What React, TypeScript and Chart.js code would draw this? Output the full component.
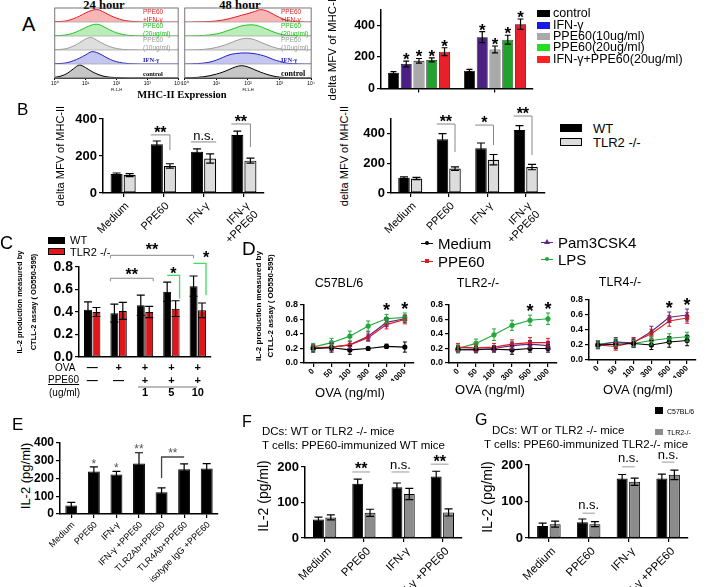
import React, { useEffect, useRef } from 'react';
import { Chart, registerables } from 'chart.js';

Chart.register(...registerables);

const SANS = '"Liberation Sans", Arial, Helvetica, sans-serif';
const NARROW = '"Liberation Sans Narrow", "Arial Narrow", "Liberation Sans", Arial, sans-serif';
const SERIF = '"Liberation Serif", "DejaVu Serif", "Times New Roman", serif';
Chart.defaults.font.family = SANS;
Chart.defaults.color = '#000';

// ---------------- Panel A: flow histograms ----------------
const HIST_X = [0, 0.2, 0.4, 0.6, 0.8, 1, 1.2, 1.4, 1.6, 1.8, 2, 2.2, 2.4, 2.6, 2.8, 3, 3.2, 3.4, 3.6, 3.8, 4];
const HIST_TICKS = ['10⁰', '10¹', '10²', '10³', '10⁴'];
const h24Combo = [0.02, 0.04, 0.1, 0.25, 0.45, 0.7, 0.9, 0.95, 0.75, 0.5, 0.3, 0.15, 0.07, 0.03, 0.01, 0, 0, 0, 0, 0, 0];
const h24Ppe20 = [0.02, 0.04, 0.1, 0.22, 0.42, 0.65, 0.85, 0.9, 0.7, 0.45, 0.25, 0.12, 0.05, 0.02, 0.01, 0, 0, 0, 0, 0, 0];
const h24Ppe10 = [0.02, 0.05, 0.12, 0.3, 0.55, 0.85, 0.95, 0.7, 0.45, 0.25, 0.12, 0.05, 0.02, 0.01, 0, 0, 0, 0, 0, 0, 0];
const h24Ifn = [0.02, 0.04, 0.1, 0.25, 0.45, 0.7, 0.95, 0.85, 0.6, 0.35, 0.18, 0.08, 0.03, 0.01, 0, 0, 0, 0, 0, 0, 0];
const h24Ctrl = [0.05, 0.15, 0.35, 0.7, 1.0, 0.8, 0.5, 0.28, 0.13, 0.06, 0.03, 0.01, 0, 0, 0, 0, 0, 0, 0, 0, 0];
const h48Combo = [0, 0, 0.01, 0.02, 0.04, 0.08, 0.15, 0.25, 0.38, 0.52, 0.65, 0.8, 0.95, 0.85, 0.6, 0.35, 0.15, 0.05, 0.02, 0, 0];
const h48Ppe20 = [0, 0.01, 0.02, 0.04, 0.08, 0.16, 0.28, 0.45, 0.62, 0.78, 0.85, 0.85, 0.72, 0.52, 0.32, 0.16, 0.06, 0.02, 0.01, 0, 0];
const h48Ppe10 = [0, 0.01, 0.02, 0.05, 0.1, 0.2, 0.33, 0.5, 0.7, 0.85, 0.9, 0.8, 0.6, 0.4, 0.22, 0.1, 0.04, 0.01, 0, 0, 0];
const h48Ifn = [0, 0.01, 0.03, 0.07, 0.15, 0.3, 0.5, 0.7, 0.8, 0.85, 0.85, 0.8, 0.7, 0.55, 0.35, 0.2, 0.08, 0.03, 0.01, 0, 0];
const h48Ctrl = [0.01, 0.02, 0.05, 0.1, 0.18, 0.3, 0.45, 0.65, 0.85, 0.95, 0.85, 0.65, 0.45, 0.28, 0.15, 0.07, 0.03, 0.01, 0, 0, 0];
const HIST_LINE = ['#e31a1c', '#1fc01f', '#9a9a9a', '#2020c0', '#000000'];
const HIST_FILL = ['rgba(240,120,120,0.55)', 'rgba(120,220,120,0.5)', 'rgba(200,200,200,0.6)', 'rgba(140,140,230,0.5)', 'rgba(160,160,160,0.6)'];

// ---------------- Panel A: bars ----------------
const A_GROUPS = ['24 hour', '48 hour'];
const A_SERIES = ['control', 'IFN-γ', 'PPE60(10ug/ml)', 'PPE60(20ug/ml)', 'IFN-γ+PPE60(20ug/ml)'];
const aControl = [99, 113];
const aIfn = [155, 325];
const aPpe10 = [175, 247];
const aPpe20 = [181, 309];
const aCombo = [233, 407];
const aControlErr = [8, 8];
const aIfnErr = [18, 35];
const aPpe10Err = [15, 22];
const aPpe20Err = [13, 28];
const aComboErr = [25, 33];
const A_BAR_COLORS = ['#000000', '#4a2082', '#a9a9a9', '#1fa32c', '#e8202a'];
const A_LEGEND_COLORS = ['#000000', '#1a1ae6', '#a9a9a9', '#22dd22', '#ff2020'];

// ---------------- Panel B ----------------
const B_CATS = ['Medium', 'PPE60', 'IFN-γ', ['IFN-γ', '+PPE60']];
const bLeftWT = [103, 263, 223, 313];
const bLeftWTErr = [5, 18, 15, 22];
const bLeftKO = [97, 146, 186, 175];
const bLeftKOErr = [8, 12, 25, 13];
const bRightWT = [103, 363, 303, 425];
const bRightWTErr = [6, 38, 35, 30];
const bRightKO = [98, 165, 225, 175];
const bRightKOErr = [8, 12, 35, 18];

// ---------------- Panel C ----------------
const C_OVA = ['—', '+', '+', '+', '+'];
const C_PPE = ['—', '—', '+', '+', '+'];
const C_DOSE = ['', '', '1', '5', '10'];
const cWT = [0.42, 0.39, 0.46, 0.58, 0.63];
const cWTErr = [0.07, 0.08, 0.09, 0.085, 0.09];
const cKO = [0.40, 0.41, 0.40, 0.43, 0.415];
const cKOErr = [0.04, 0.075, 0.05, 0.07, 0.065];

// ---------------- Panel D ----------------
const D_OVA = ['0', '50', '100', '300', '500', '1000'];
const D_SERIES = ['Medium', 'PPE60', 'Pam3CSK4', 'LPS'];
const D_COLORS = ['#000000', '#e41a1c', '#5b2a86', '#22a83a'];
const D_POINTS = ['circle', 'rect', 'triangle', 'circle'];
const dC57Medium = [0.20, 0.21, 0.18, 0.20, 0.23, 0.22];
const dC57Ppe = [0.21, 0.22, 0.25, 0.35, 0.53, 0.60];
const dC57Pam = [0.20, 0.22, 0.25, 0.37, 0.56, 0.61];
const dC57Lps = [0.22, 0.28, 0.37, 0.51, 0.61, 0.63];
const dC57MediumErr = [0.05, 0.06, 0.06, 0.02, 0.03, 0.07];
const dC57PpeErr = [0.04, 0.05, 0.05, 0.05, 0.06, 0.06];
const dC57PamErr = [0.04, 0.05, 0.05, 0.06, 0.06, 0.05];
const dC57LpsErr = [0.05, 0.06, 0.07, 0.07, 0.06, 0.06];
const dT2Medium = [0.19, 0.19, 0.19, 0.18, 0.20, 0.20];
const dT2Ppe = [0.22, 0.21, 0.22, 0.26, 0.28, 0.28];
const dT2Pam = [0.18, 0.18, 0.20, 0.24, 0.26, 0.24];
const dT2Lps = [0.20, 0.27, 0.39, 0.52, 0.59, 0.61];
const dT2MediumErr = [0.04, 0.04, 0.04, 0.06, 0.05, 0.05];
const dT2PpeErr = [0.05, 0.05, 0.05, 0.06, 0.07, 0.06];
const dT2PamErr = [0.04, 0.04, 0.04, 0.05, 0.05, 0.05];
const dT2LpsErr = [0.05, 0.06, 0.08, 0.07, 0.07, 0.08];
const dT4Medium = [0.20, 0.21, 0.22, 0.20, 0.24, 0.26];
const dT4Ppe = [0.20, 0.18, 0.24, 0.35, 0.52, 0.56];
const dT4Pam = [0.20, 0.24, 0.23, 0.38, 0.57, 0.60];
const dT4Lps = [0.21, 0.24, 0.22, 0.26, 0.29, 0.31];
const dT4MediumErr = [0.05, 0.06, 0.05, 0.06, 0.07, 0.07];
const dT4PpeErr = [0.04, 0.05, 0.06, 0.06, 0.07, 0.07];
const dT4PamErr = [0.04, 0.06, 0.06, 0.07, 0.07, 0.08];
const dT4LpsErr = [0.05, 0.05, 0.04, 0.06, 0.06, 0.06];

// ---------------- Panel E ----------------
const E_CATS = ['Medium', 'PPE60', 'IFN-γ', 'IFN-γ +PPE60', 'TLR2Ab+PPE60', 'TLR4Ab+PPE60', 'isotype IgG +PPE60'];
const eVals = [48, 240, 222, 285, 122, 252, 256];
const eErr = [18, 25, 18, 60, 25, 30, 28];

// ---------------- Panels F, G ----------------
const FG_CATS = ['Medium', 'PPE60', 'IFN-γ', 'IFN-γ +PPE60'];
const fWT = [52, 153, 143, 173];
const fWTErr = [7, 13, 12, 15];
const fKO = [58, 71, 124, 72];
const fKOErr = [7, 10, 16, 10];
const gWT = [33, 43, 163, 163];
const gWTErr = [8, 9, 11, 12];
const gKO = [38, 38, 154, 173];
const gKOErr = [8, 7, 10, 13];

// ================= helpers =================
type Frame = { left: number; top: number; width: number; height: number; yW: number; xH: number; padT: number; padR: number; padL?: number };
function frame(l: number, t: number, r: number, b: number, yW: number, xH: number, padT: number, padR: number): Frame {
  return { left: l - yW, top: t - padT, width: r + padR - (l - yW), height: b + xH - (t - padT), yW, xH, padT, padR };
}

function baseOptions(f: Frame) {
  return {
    animation: false,
    responsive: false,
    events: [],
    layout: { autoPadding: false, padding: { left: f.padL || 0, top: f.padT, right: f.padR, bottom: 0 } },
    plugins: { legend: { display: false }, tooltip: { enabled: false } },
  };
}

function yLin(f: Frame, min: number, max: number, step: number, size: number, fmt?: (v: number) => string) {
  return {
    min, max,
    afterFit: (s: any) => { s.width = f.yW; },
    ticks: { stepSize: step, font: { family: SANS, size, weight: 'bold' }, color: '#000', padding: 2, callback: (v: any) => (fmt ? fmt(v) : String(v)) },
    grid: { display: true, drawOnChartArea: false, drawTicks: true, tickLength: 4, color: '#000', lineWidth: 1.2 },
    border: { display: true, color: '#000', width: 1.5 },
  };
}

function xCat(f: Frame, o: { size?: number; bold?: boolean; rot?: number; show?: boolean; ticks?: boolean; lh?: number; pad?: number; off?: number }) {
  const rot = o.rot === undefined ? 45 : o.rot;
  return {
    type: 'category',
    offset: true,
    afterFit: (s: any) => { s.height = f.xH; },
    ticks: {
      display: o.show !== false,
      font: { family: SANS, size: o.size || 11, weight: o.bold ? 'bold' : 'normal', lineHeight: o.lh || 1.1 },
      color: '#000', minRotation: rot, maxRotation: rot, autoSkip: false, padding: o.pad === undefined ? 1 : o.pad,
      labelOffset: o.off || 0,
    },
    grid: { display: true, offset: false, drawOnChartArea: false, drawTicks: o.ticks !== false, tickLength: 4, color: '#000', lineWidth: 1.2 },
    border: { display: true, color: '#000', width: 1.5 },
  };
}

const errorBars = (cap: number, lw = 1.2) => ({
  id: 'errorBars',
  afterDatasetsDraw(chart: any) {
    const ctx = chart.ctx;
    chart.data.datasets.forEach((ds: any, di: number) => {
      if (!ds.errors) return;
      const meta = chart.getDatasetMeta(di);
      const ys = chart.scales[meta.yAxisID];
      ctx.save();
      ctx.strokeStyle = ds.errColor || '#000';
      ctx.lineWidth = lw;
      meta.data.forEach((el: any, i: number) => {
        const v = ds.data[i];
        const e = ds.errors[i];
        const yt = ys.getPixelForValue(v + e);
        const yb = ys.getPixelForValue(v - e);
        const x = el.x;
        ctx.beginPath();
        ctx.moveTo(x, yb); ctx.lineTo(x, yt);
        ctx.moveTo(x - cap / 2, yt); ctx.lineTo(x + cap / 2, yt);
        ctx.moveTo(x - cap / 2, yb); ctx.lineTo(x + cap / 2, yb);
        ctx.stroke();
      });
      ctx.restore();
    });
  },
});

const annotations = (list: any[]) => ({
  id: 'annots',
  afterDraw(chart: any) {
    const ctx = chart.ctx;
    const ys = chart.scales.y;
    const el = (r: number[]) => chart.getDatasetMeta(r[0]).data[r[1]];
    const topOf = (r: number[]) => {
      const ds = chart.data.datasets[r[0]];
      const e = ds.errors ? ds.errors[r[1]] : 0;
      return ys.getPixelForValue(ds.data[r[1]] + e);
    };
    const ex = (e: any, side: string) => (side === 'l' ? e.x - e.width / 2 : side === 'r' ? e.x + e.width / 2 : e.x);
    for (const a of list) {
      ctx.save();
      ctx.font = `${a.bold === false ? 'normal' : 'bold'} ${a.size || 16}px ${SANS}`;
      ctx.fillStyle = a.textColor || '#000';
      ctx.textAlign = 'center';
      ctx.textBaseline = 'alphabetic';
      if (a.k === 'star') {
        let x = 0;
        let yt = 0;
        if (a.at[0] < 0) {
          const idx = a.at[1];
          let m = Infinity;
          let sx = 0;
          const n = chart.data.datasets.length;
          chart.data.datasets.forEach((_: any, di: number) => { m = Math.min(m, topOf([di, idx])); sx += el([di, idx]).x; });
          x = sx / n; yt = m;
        } else {
          x = el(a.at).x; yt = topOf(a.at);
        }
        ctx.fillText(a.text, x, yt - (a.gap === undefined ? 2 : a.gap));
      } else {
        const e1 = el(a.from);
        const e2 = el(a.to);
        const x1 = ex(e1, a.s1 || 'c');
        const x2 = ex(e2, a.s2 || 'c');
        const yl = ys.getPixelForValue(a.y);
        ctx.strokeStyle = a.color || '#888';
        ctx.lineWidth = a.lw || 1;
        ctx.beginPath();
        if (a.d1 !== undefined) { ctx.moveTo(x1, ys.getPixelForValue(a.d1)); ctx.lineTo(x1, yl); }
        else if (a.tick) { ctx.moveTo(x1, yl + a.tick); ctx.lineTo(x1, yl); }
        else ctx.moveTo(x1, yl);
        ctx.lineTo(x2, yl);
        if (a.d2 !== undefined) ctx.lineTo(x2, ys.getPixelForValue(a.d2));
        else if (a.tick) ctx.lineTo(x2, yl + a.tick);
        ctx.stroke();
        const tx = a.tx === 'end' ? x2 : (x1 + x2) / 2;
        ctx.fillText(a.text, tx, yl - (a.gap === undefined ? 3 : a.gap));
      }
      ctx.restore();
    }
  },
});

const histBox = {
  id: 'histBox',
  afterDatasetsDraw(chart: any) {
    const ctx = chart.ctx;
    const ca = chart.chartArea;
    ctx.save();
    ctx.strokeStyle = '#aaa';
    ctx.lineWidth = 0.8;
    Object.keys(chart.scales).forEach((k) => {
      if (k[0] !== 'h') return;
      const s = chart.scales[k];
      ctx.beginPath();
      ctx.moveTo(ca.left, s.bottom);
      ctx.lineTo(ca.right, s.bottom);
      ctx.stroke();
    });
    ctx.strokeStyle = '#555';
    ctx.strokeRect(ca.left, ca.top, ca.right - ca.left, ca.bottom - ca.top);
    ctx.restore();
  },
};

function ChartBox({ f, cfg }: { f: Frame; cfg: () => any }) {
  const ref = useRef<HTMLCanvasElement | null>(null);
  useEffect(() => {
    const c = new Chart(ref.current as HTMLCanvasElement, cfg());
    return () => c.destroy();
  }, []);
  return <canvas ref={ref} width={f.width} height={f.height} style={{ position: 'absolute', left: f.left, top: f.top, width: f.width, height: f.height }} />;
}

type TxtProps = { x: number; y: number; s: any; size?: number; bold?: boolean; color?: string; a?: 'l' | 'c' | 'r'; font?: string; rot?: number; style?: any };
function Txt({ x, y, s, size = 12, bold = false, color = '#000', a = 'l', font = SANS, rot = 0, style = {} }: TxtProps) {
  const tx = a === 'l' ? '0' : a === 'c' ? '-50%' : '-100%';
  return (
    <div style={{ position: 'absolute', left: x, top: y, transform: `translate(${tx},-50%)${rot ? ` rotate(${rot}deg)` : ''}`, fontFamily: font, fontSize: size, fontWeight: bold ? 'bold' : 'normal', color, whiteSpace: 'nowrap', lineHeight: 1, ...style }}>
      {s}
    </div>
  );
}
function Box({ x, y, w, h, bg, border }: { x: number; y: number; w: number; h: number; bg: string; border?: string }) {
  return <div style={{ position: 'absolute', left: x, top: y, width: w, height: h, background: bg, boxSizing: 'border-box', border: border ? `1px solid ${border}` : 'none' }} />;
}

// ================= chart configs =================
function histConfig(f: Frame, rows: number[][]) {
  const scales: any = {
    x: {
      type: 'linear', min: 0, max: 4,
      afterFit: (s: any) => { s.height = f.xH; },
      ticks: { stepSize: 1, callback: (v: any) => HIST_TICKS[v] || '', font: { family: SANS, size: 5 }, color: '#000', padding: 1, maxRotation: 0 },
      grid: { display: true, drawOnChartArea: false, tickLength: 2, color: '#000' },
      border: { color: '#000' },
      title: { display: true, text: 'FL1-H', font: { family: SANS, size: 4 }, color: '#000', padding: 0 },
    },
  };
  rows.forEach((_, i) => {
    scales['h' + i] = { position: 'right', stack: 'hist', stackWeight: 1, display: false, min: 0, max: 1.08 };
  });
  return {
    type: 'line',
    data: {
      datasets: rows.map((vals, i) => ({
        data: vals.map((v, j) => ({ x: HIST_X[j], y: v })),
        yAxisID: 'h' + i,
        borderColor: HIST_LINE[i],
        backgroundColor: HIST_FILL[i],
        fill: 'origin',
        borderWidth: 1,
        pointRadius: 0,
        tension: 0.35,
      })),
    },
    options: { ...baseOptions(f), scales },
    plugins: [histBox],
  };
}

const fA = frame(381, 9, 533, 90, 50, 8, 9, 3);
function aConfig() {
  const vals = [aControl, aIfn, aPpe10, aPpe20, aCombo];
  const errs = [aControlErr, aIfnErr, aPpe10Err, aPpe20Err, aComboErr];
  const ann: any[] = [];
  for (let d = 1; d < 5; d++) for (let i = 0; i < 2; i++) ann.push({ k: 'star', at: [d, i], text: '*', size: 17, gap: -4 });
  return {
    type: 'bar',
    data: {
      labels: A_GROUPS,
      datasets: A_SERIES.map((name, i) => ({
        label: name, data: vals[i], errors: errs[i], backgroundColor: A_BAR_COLORS[i], borderColor: '#111', borderWidth: 0.8,
        categoryPercentage: 0.84, barPercentage: 0.86,
      })),
    },
    options: { ...baseOptions(fA), scales: { x: xCat(fA, { show: false }), y: yLin(fA, 0, 500, 100, 12.5) } },
    plugins: [errorBars(6), annotations(ann)],
  };
}

const fBL = frame(103, 119, 264, 193, 48, 52, 14, 4);
const fBR = frame(391, 119, 545, 193, 40, 52, 16, 6);
function bConfig(f: Frame, wt: number[], wtE: number[], ko: number[], koE: number[], max: number, step: number, ann: any[]) {
  return {
    type: 'bar',
    data: {
      labels: B_CATS,
      datasets: [
        { label: 'WT', data: wt, errors: wtE, backgroundColor: '#000', borderColor: '#000', borderWidth: 1, categoryPercentage: 0.65, barPercentage: 0.92 },
        { label: 'TLR2 -/-', data: ko, errors: koE, backgroundColor: '#dcdcdc', borderColor: '#000', borderWidth: 1.2, borderSkipped: false, categoryPercentage: 0.65, barPercentage: 0.92 },
      ],
    },
    options: { ...baseOptions(f), scales: { x: xCat(f, { size: 11, pad: 3, off: 4 }), y: yLin(f, 0, max, step, 13) } },
    plugins: [errorBars(8), annotations(ann)],
  };
}
const bLeftAnn = [
  { k: 'bracket', from: [0, 1], s1: 'l', to: [1, 1], s2: 'c', y: 314, d2: 232, text: '**', size: 16, gap: -3 },
  { k: 'bracket', from: [0, 2], s1: 'l', to: [1, 2], s2: 'r', y: 276, text: 'n.s.', size: 13, bold: false, gap: 2 },
  { k: 'bracket', from: [0, 3], s1: 'l', to: [1, 3], s2: 'c', y: 373, d2: 249, text: '**', size: 16, gap: -3 },
];
const bRightAnn = [
  { k: 'bracket', from: [0, 1], s1: 'l', to: [1, 1], s2: 'c', y: 466, d2: 277, text: '**', size: 16, gap: -3 },
  { k: 'bracket', from: [0, 2], s1: 'l', to: [1, 2], s2: 'c', y: 459, d2: 324, text: '*', size: 16, gap: -3 },
  { k: 'bracket', from: [0, 3], s1: 'l', to: [1, 3], s2: 'c', y: 520, d2: 257, text: '**', size: 16, gap: -3 },
];

const fC = frame(79, 267, 211, 357, 62, 44, 27, 8);
function cConfig() {
  const labels = C_OVA.map((o, i) => [o, C_PPE[i], C_DOSE[i]]);
  const ann = [
    { k: 'bracket', from: [0, 1], s1: 'l', to: [0, 4], s2: 'c', y: 0.904, tick: 3, text: '**', size: 16, gap: 0, color: '#888' },
    { k: 'bracket', from: [0, 1], s1: 'l', to: [1, 2], s2: 'r', y: 0.70, tick: 3, text: '**', size: 16, gap: -2, color: '#888' },
    { k: 'bracket', from: [0, 3], s1: 'c', to: [1, 3], s2: 'r', y: 0.726, d2: 0.52, text: '*', size: 16, gap: -4, color: '#3ddc5a', lw: 1.3 },
    { k: 'bracket', from: [0, 4], s1: 'c', to: [1, 4], s2: 'r', y: 0.833, d2: 0.55, text: '*', size: 16, gap: 0, color: '#3ddc5a', lw: 1.3, tx: 'end' },
  ];
  return {
    type: 'bar',
    data: {
      labels,
      datasets: [
        { label: 'WT', data: cWT, errors: cWTErr, backgroundColor: '#000', borderColor: '#000', borderWidth: 1, categoryPercentage: 0.64, barPercentage: 0.94 },
        { label: 'TLR2 -/-', data: cKO, errors: cKOErr, backgroundColor: '#e3151b', borderColor: '#000', borderWidth: 1, borderSkipped: false, categoryPercentage: 0.64, barPercentage: 0.94 },
      ],
    },
    options: {
      ...baseOptions(fC),
      scales: {
        x: xCat(fC, { size: 11, bold: true, rot: 0, ticks: false, lh: 1.12, pad: 5 }),
        y: yLin(fC, 0, 0.8, 0.2, 14, (v) => Number(v).toFixed(1)),
      },
    },
    plugins: [errorBars(8), annotations(ann)],
  };
}

const fD1 = frame(304, 305, 414, 363, 22, 18, 13, 6);
const fD2 = frame(449, 305, 557, 363, 22, 18, 13, 6);
const fD3 = frame(589, 300, 696, 360, 22, 18, 13, 6);
function dConfig(f: Frame, series: number[][], errs: number[][]) {
  const ann = [
    { k: 'star', at: [-1, 4], text: '*', size: 18, gap: -2 },
    { k: 'star', at: [-1, 5], text: '*', size: 18, gap: -2 },
  ];
  return {
    type: 'line',
    data: {
      labels: D_OVA,
      datasets: D_SERIES.map((name, i) => ({
        label: name, data: series[i], errors: errs[i], errColor: D_COLORS[i],
        borderColor: D_COLORS[i], backgroundColor: D_COLORS[i], pointStyle: D_POINTS[i], pointRadius: 2, borderWidth: 1.2, tension: 0,
      })),
    },
    options: {
      ...baseOptions(f),
      scales: {
        x: xCat(f, { size: 8, bold: true, rot: 45, pad: 0 }),
        y: yLin(f, 0, 0.8, 0.2, 9, (v) => Number(v).toFixed(1)),
      },
    },
    plugins: [errorBars(4, 1), annotations(ann)],
  };
}

const fE = frame(60, 443, 218, 514, 42, 72, 12, 6);
function eConfig() {
  const ann = [
    { k: 'star', at: [0, 1], text: '*', size: 12, bold: false, textColor: '#555', gap: -1 },
    { k: 'star', at: [0, 2], text: '*', size: 12, bold: false, textColor: '#555', gap: -1 },
    { k: 'star', at: [0, 3], text: '**', size: 12, bold: false, textColor: '#555', gap: 0 },
    { k: 'bracket', from: [0, 4], s1: 'c', to: [0, 5], s2: 'c', y: 321, d1: 203, text: '**', size: 12, bold: false, textColor: '#555', color: '#444', lw: 1.3, gap: 0 },
  ];
  return {
    type: 'bar',
    data: {
      labels: E_CATS,
      datasets: [{ label: 'IL-2', data: eVals, errors: eErr, backgroundColor: '#000', borderColor: '#000', borderWidth: 1, categoryPercentage: 0.6, barPercentage: 0.88 }],
    },
    options: { ...baseOptions(fE), scales: { x: xCat(fE, { size: 9, pad: 2, off: 2 }), y: yLin(fE, 0, 400, 100, 12) } },
    plugins: [errorBars(8), annotations(ann)],
  };
}

const fF = frame(305, 467, 462, 538, 40, 49, 17, 4);
const fG = frame(529, 465, 688, 538, 40, 49, 16, 10);
function fgConfig(f: Frame, wt: number[], wtE: number[], ko: number[], koE: number[], ann: any[]) {
  return {
    type: 'bar',
    data: {
      labels: FG_CATS,
      datasets: [
        { label: 'C57BL/6', data: wt, errors: wtE, backgroundColor: '#000', borderColor: '#000', borderWidth: 1, categoryPercentage: 0.63, barPercentage: 0.88 },
        { label: 'TLR2-/-', data: ko, errors: koE, backgroundColor: '#8c8c8c', borderColor: '#000', borderWidth: 1, borderSkipped: false, categoryPercentage: 0.63, barPercentage: 0.88 },
      ],
    },
    options: { ...baseOptions(f), scales: { x: xCat(f, { size: 11.5, pad: 3, off: 5 }), y: yLin(f, 0, 200, 50, 13) } },
    plugins: [errorBars(8), annotations(ann)],
  };
}
const fAnn = [
  { k: 'bracket', from: [0, 1], s1: 'l', to: [1, 1], s2: 'c', y: 186, text: '**', size: 16, gap: -2, color: '#999' },
  { k: 'bracket', from: [0, 2], s1: 'l', to: [1, 2], s2: 'c', y: 186, text: 'n.s.', size: 13, bold: false, gap: 3, color: '#999' },
  { k: 'bracket', from: [0, 3], s1: 'l', to: [1, 3], s2: 'c', y: 208, text: '**', size: 16, gap: -3, color: '#999' },
];
const gAnn = [
  { k: 'bracket', from: [0, 1], s1: 'c', to: [1, 1], s2: 'c', y: 68, text: 'n.s.', size: 13, bold: false, gap: 4, color: '#999' },
  { k: 'bracket', from: [0, 2], s1: 'c', to: [1, 2], s2: 'c', y: 195, text: 'n.s.', size: 13, bold: false, gap: 5, color: '#999' },
  { k: 'bracket', from: [0, 3], s1: 'c', to: [1, 3], s2: 'c', y: 208, text: 'n.s.', size: 13, bold: false, gap: 3, color: '#999' },
];

const fH1: Frame = { left: 50, top: 6, width: 133, height: 86, yW: 0, xH: 14, padT: 2, padR: 4, padL: 4 };
const fH2: Frame = { left: 180, top: 6, width: 136, height: 86, yW: 0, xH: 14, padT: 2, padR: 4, padL: 4 };

function DLegendItem({ x, y, color, label, shape }: { x: number; y: number; color: string; label: string; shape: string }) {
  const mark = shape === 'rect'
    ? <div style={{ position: 'absolute', left: 4, top: -2, width: 4, height: 4, background: color }} />
    : shape === 'triangle'
      ? <div style={{ position: 'absolute', left: 3, top: -3, width: 0, height: 0, borderLeft: '3px solid transparent', borderRight: '3px solid transparent', borderBottom: `5px solid ${color}` }} />
      : <div style={{ position: 'absolute', left: 4, top: -2, width: 4, height: 4, borderRadius: 2, background: color }} />;
  return (
    <>
      <div style={{ position: 'absolute', left: x, top: y, width: 12, height: 0 }}>
        <div style={{ position: 'absolute', left: 0, top: -0.5, width: 12, height: 1.3, background: color }} />
        {mark}
      </div>
      <Txt x={x + 17} y={y} s={label} size={15} />
    </>
  );
}

export default function App() {
  const histLabels24 = [
    { y: 12, s: 'PPE60', c: '#e31a1c' }, { y: 20, s: '+IFN-γ', c: '#e31a1c' },
    { y: 26, s: 'PPE60', c: '#1fc01f' }, { y: 34, s: '(20ug/ml)', c: '#1fc01f' },
    { y: 40, s: 'PPE60', c: '#9a9a9a' }, { y: 48, s: '(10ug/ml)', c: '#9a9a9a' },
    { y: 60, s: 'IFN-γ', c: '#2020c0' }, { y: 74, s: 'control', c: '#000' },
  ];
  return (
    <div style={{ position: 'absolute', left: 0, top: 0, width: 713, height: 587, overflow: 'hidden', background: '#fff', fontFamily: SANS }}>
      {/* Panel A */}
      <Txt x={22} y={24} s="A" size={20} />
      <Txt x={104} y={5} s="24 hour" size={12.5} bold font={SERIF} a="c" />
      <Txt x={240} y={5} s="48 hour" size={12.5} bold font={SERIF} a="c" />
      <ChartBox f={fH1} cfg={() => histConfig(fH1, [h24Combo, h24Ppe20, h24Ppe10, h24Ifn, h24Ctrl])} />
      <ChartBox f={fH2} cfg={() => histConfig(fH2, [h48Combo, h48Ppe20, h48Ppe10, h48Ifn, h48Ctrl])} />
      {histLabels24.map((l, i) => (
        <Txt key={'a' + i} x={143} y={l.y} s={l.s} size={6.5} color={l.c} bold={l.s === 'control' || l.s === 'IFN-γ'} font={l.s === 'IFN-γ' || l.s === 'control' ? SERIF : SANS} />
      ))}
      {histLabels24.map((l, i) => (
        <Txt key={'b' + i} x={281} y={l.y} s={l.s} size={l.s === 'control' ? 8 : 6.5} color={l.c} bold={l.s === 'control' || l.s === 'IFN-γ'} font={l.s === 'IFN-γ' || l.s === 'control' ? SERIF : SANS} />
      ))}
      <Txt x={182} y={95} s="MHC-II Expression" size={10.5} bold font={SERIF} a="c" />
      <Txt x={333} y={48} s="delta MFV of MHC-II" size={11.5} font={NARROW} a="c" rot={-90} />
      <ChartBox f={fA} cfg={aConfig} />
      {A_SERIES.map((s, i) => (
        <React.Fragment key={'al' + i}>
          <Box x={537} y={[13, 25, 36, 47, 59][i] - 3.5} w={13} h={7} bg={A_LEGEND_COLORS[i]} />
          <Txt x={553} y={[13, 25, 36, 47, 59][i]} s={s} size={12.5} />
        </React.Fragment>
      ))}

      {/* Panel B */}
      <Txt x={17} y={109} s="B" size={17} />
      <Txt x={60} y={156} s="delta MFV of MHC-II" size={11} font={NARROW} a="c" rot={-90} />
      <ChartBox f={fBL} cfg={() => bConfig(fBL, bLeftWT, bLeftWTErr, bLeftKO, bLeftKOErr, 400, 100, bLeftAnn)} />
      <Txt x={344} y={156} s="delta MFV of MHC-II" size={11} font={NARROW} a="c" rot={-90} />
      <ChartBox f={fBR} cfg={() => bConfig(fBR, bRightWT, bRightWTErr, bRightKO, bRightKOErr, 500, 100, bRightAnn)} />
      <Box x={560} y={124} w={22} h={8} bg="#000" />
      <Txt x={593} y={128} s="WT" size={13} />
      <Box x={560} y={138} w={22} h={8} bg="#dcdcdc" border="#000" />
      <Txt x={593} y={142} s="TLR2 -/-" size={13} />

      {/* Panel C */}
      <Txt x={0} y={243} s="C" size={18} />
      <Box x={48} y={237} w={17} h={7} bg="#000" />
      <Txt x={70} y={240} s="WT" size={11} />
      <Box x={48} y={248} w={17} h={7} bg="#e3151b" border="#000" />
      <Txt x={70} y={252} s="TLR2 -/-" size={11} />
      <Txt x={20} y={302} s="IL-2 production measured by" size={7.5} bold font={NARROW} a="c" rot={-90} />
      <Txt x={34} y={302} s="CTLL-2 assay ( OD550-595)" size={7.5} bold font={NARROW} a="c" rot={-90} />
      <ChartBox f={fC} cfg={cConfig} />
      <Txt x={55} y={368} s="OVA" size={10} />
      <Txt x={48} y={380} s="PPE60" size={10} style={{ textDecoration: 'underline' }} />
      <Txt x={49} y={393} s="(ug/ml)" size={10} />
      <div style={{ position: 'absolute', left: 138, top: 386, width: 59, height: 1.5, background: '#bbb' }} />

      {/* Panel D */}
      <Txt x={242} y={248} s="D" size={19} />
      <DLegendItem x={421} y={243} color={D_COLORS[0]} label="Medium" shape="circle" />
      <DLegendItem x={421} y={261} color={D_COLORS[1]} label="PPE60" shape="rect" />
      <DLegendItem x={541} y={242} color={D_COLORS[2]} label="Pam3CSK4" shape="triangle" />
      <DLegendItem x={541} y={259} color={D_COLORS[3]} label="LPS" shape="circle" />
      <Txt x={259} y={306} s="IL-2 production measured by" size={8} bold font={NARROW} a="c" rot={-90} />
      <Txt x={271} y={306} s="CTLL-2 assay ( OD550-595)" size={8} bold font={NARROW} a="c" rot={-90} />
      <Txt x={339} y={283} s="C57BL/6" size={12.5} a="c" />
      <Txt x={478} y={283} s="TLR2-/-" size={12.5} a="c" />
      <Txt x={620} y={282} s="TLR4-/-" size={12.5} a="c" />
      <ChartBox f={fD1} cfg={() => dConfig(fD1, [dC57Medium, dC57Ppe, dC57Pam, dC57Lps], [dC57MediumErr, dC57PpeErr, dC57PamErr, dC57LpsErr])} />
      <ChartBox f={fD2} cfg={() => dConfig(fD2, [dT2Medium, dT2Ppe, dT2Pam, dT2Lps], [dT2MediumErr, dT2PpeErr, dT2PamErr, dT2LpsErr])} />
      <ChartBox f={fD3} cfg={() => dConfig(fD3, [dT4Medium, dT4Ppe, dT4Pam, dT4Lps], [dT4MediumErr, dT4PpeErr, dT4PamErr, dT4LpsErr])} />
      <Txt x={350} y={392} s="OVA (ng/ml)" size={13} a="c" />
      <Txt x={490} y={389} s="OVA (ng/ml)" size={13} a="c" />
      <Txt x={638} y={389} s="OVA (ng/ml)" size={13} a="c" />

      {/* Panel E */}
      <Txt x={12} y={424} s="E" size={17} />
      <Txt x={25} y={476} s="IL-2 (pg/ml)" size={13} font={NARROW} a="c" rot={-90} />
      <ChartBox f={fE} cfg={eConfig} />

      {/* Panel F */}
      <Txt x={242} y={422} s="F" size={16} />
      <Txt x={262} y={432} s="DCs: WT or TLR2 -/- mice" size={11.5} />
      <Txt x={262} y={446} s="T cells: PPE60-immunized WT mice" size={11.5} />
      <Txt x={263} y={496} s="IL-2 (pg/ml)" size={14} font={NARROW} a="c" rot={-90} />
      <ChartBox f={fF} cfg={() => fgConfig(fF, fWT, fWTErr, fKO, fKOErr, fAnn)} />

      {/* Panel G */}
      <Txt x={475} y={420} s="G" size={16} />
      <Box x={655} y={407} w={8} h={7} bg="#000" />
      <Txt x={667} y={411} s="C57BL/6" size={7} />
      <Box x={655} y={429} w={8} h={6} bg="#8c8c8c" />
      <Txt x={667} y={432} s="TLR2-/-" size={7} />
      <Txt x={492} y={431} s="DCs: WT or TLR2 -/- mice" size={11.5} />
      <Txt x={484} y={445} s="T cells: PPE60-immunized TLR2-/- mice" size={11.5} />
      <Txt x={487} y={497} s="IL-2 (pg/ml)" size={14} font={NARROW} a="c" rot={-90} />
      <ChartBox f={fG} cfg={() => fgConfig(fG, gWT, gWTErr, gKO, gKOErr, gAnn)} />
    </div>
  );
}
